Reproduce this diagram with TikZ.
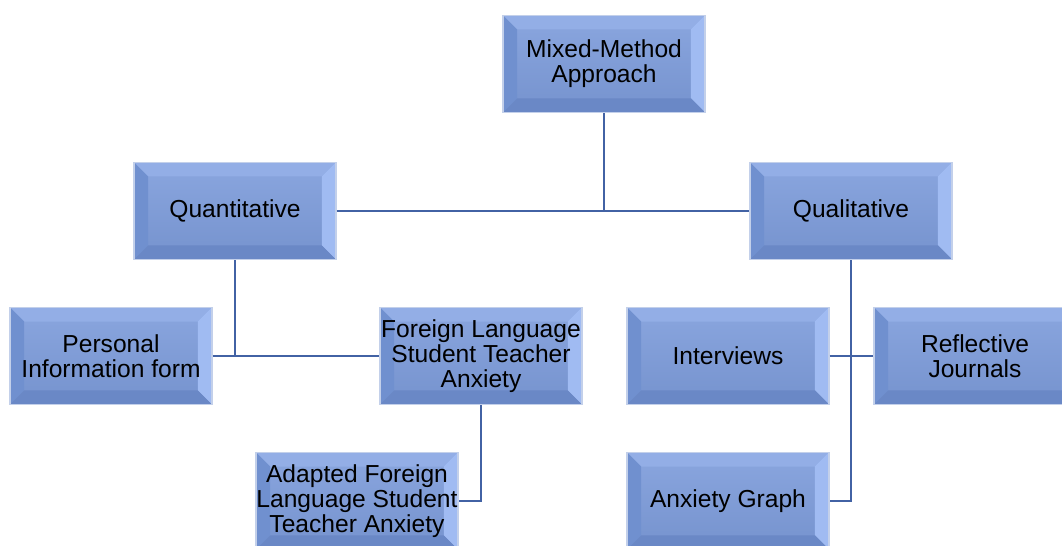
\documentclass[tikz,border=0pt]{standalone}
\usepackage{fontspec}
\setmainfont{Liberation Sans}
\usepackage{tikz}
\usetikzlibrary{calc}
\usepackage{xcolor}
\definecolor{BoxFace}{HTML}{7D9CDB}
\definecolor{BoxTop}{HTML}{93AEE6}
\definecolor{BoxLeft}{HTML}{7090CF}
\definecolor{BoxRight}{HTML}{A0BBF2}
\definecolor{BoxBottom}{HTML}{6A88C6}
\definecolor{BoxEdge}{HTML}{C3D0EA}
\definecolor{LinkBlue}{HTML}{4262A4}

\begin{document}
\begin{tikzpicture}[
  x=0.02cm,y=-0.02cm,
  link/.style={draw=LinkBlue,line width=1.6pt},
  bevelbox/.style={draw=BoxEdge,line width=0.7pt,
    top color=BoxFace!90!white,bottom color=BoxFace!94!black,
    minimum width=4.04cm,minimum height=1.94cm,inner sep=0pt,
    align=center,font=\fontsize{14}{14.2}\selectfont,
    path picture={
      \coordinate (nw) at (path picture bounding box.north west);
      \coordinate (ne) at (path picture bounding box.north east);
      \coordinate (sw) at (path picture bounding box.south west);
      \coordinate (se) at (path picture bounding box.south east);
      \fill[BoxTop] (nw) -- (ne) -- ($(ne)+(-0.28cm,-0.28cm)$) -- ($(nw)+(0.28cm,-0.28cm)$) -- cycle;
      \fill[BoxLeft] (nw) -- (sw) -- ($(sw)+(0.28cm,0.28cm)$) -- ($(nw)+(0.28cm,-0.28cm)$) -- cycle;
      \fill[BoxRight] (ne) -- (se) -- ($(se)+(-0.28cm,0.28cm)$) -- ($(ne)+(-0.28cm,-0.28cm)$) -- cycle;
      \fill[BoxBottom] (sw) -- (se) -- ($(se)+(-0.28cm,0.28cm)$) -- ($(sw)+(0.28cm,0.28cm)$) -- cycle;
    }}
]
\useasboundingbox (0,0) rectangle (1062,546);
\clip (0,0) rectangle (1062,546);

% top level
\node[bevelbox] (mixed) at (604,64) {Mixed-Method\\Approach};

% branches
\node[bevelbox] (quant) at (235,211) {Quantitative};
\node[bevelbox] (qual) at (851,211) {Qualitative};

% instruments
\node[bevelbox] (personal) at (111,356) {Personal\\Information form};
\node[bevelbox] (flsta) at (481,356) {Foreign Language\\Student Teacher\\Anxiety};
\node[bevelbox] (interviews) at (728,356) {Interviews};
\node[bevelbox] (journals) at (975,356) {Reflective\\Journals};
\node[bevelbox] (adapted) at (357,501) {Adapted Foreign\\Language Student\\Teacher Anxiety};
\node[bevelbox] (graph) at (728,501) {Anxiety Graph};

\draw[link] (quant.east) -- (qual.west);
\draw[link] (mixed.south) -- (mixed.south |- quant.east);
\draw[link] (personal.east) -- (flsta.west);
\draw[link] (quant.south) -- (quant.south |- personal.east);
\draw[link] (interviews.east) -- (journals.west);
\draw[link] (qual.south) |- (graph.east);
\draw[link] (flsta.south) |- (adapted.east);

\end{tikzpicture}
\end{document}
